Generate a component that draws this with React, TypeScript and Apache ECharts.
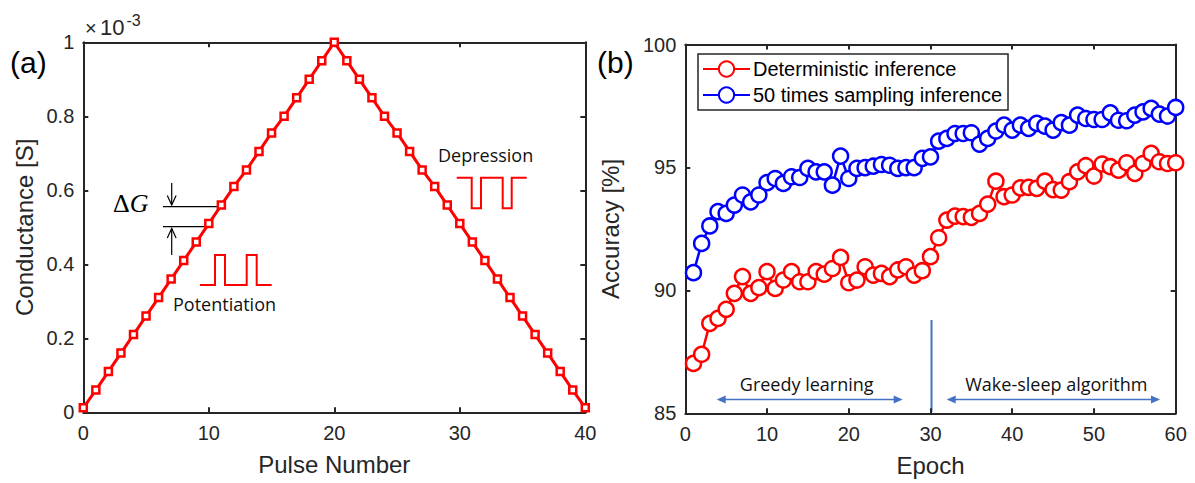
import React, { useEffect, useRef } from "react";
import * as echarts from "echarts";

// ---------- data ----------
const pulseNumbers = [0, 1, 2, 3, 4, 5, 6, 7, 8, 9, 10, 11, 12, 13, 14, 15, 16, 17, 18, 19, 20,
  21, 22, 23, 24, 25, 26, 27, 28, 29, 30, 31, 32, 33, 34, 35, 36, 37, 38, 39, 40];
// conductance in units of 1e-3 S
const conductance = [0.012, 0.06, 0.11, 0.16, 0.21, 0.26, 0.31, 0.36, 0.41, 0.46, 0.51,
  0.56, 0.61, 0.655, 0.705, 0.755, 0.80, 0.85, 0.90, 0.95, 1.0,
  0.95, 0.90, 0.85, 0.80, 0.755, 0.705, 0.655, 0.61, 0.56, 0.51,
  0.46, 0.41, 0.36, 0.31, 0.26, 0.21, 0.16, 0.11, 0.06, 0.012];

const epochs = [1, 2, 3, 4, 5, 6, 7, 8, 9, 10, 11, 12, 13, 14, 15, 16, 17, 18, 19, 20,
  21, 22, 23, 24, 25, 26, 27, 28, 29, 30, 31, 32, 33, 34, 35, 36, 37, 38, 39, 40,
  41, 42, 43, 44, 45, 46, 47, 48, 49, 50, 51, 52, 53, 54, 55, 56, 57, 58, 59, 60];
const deterministicAcc = [87.03, 87.4, 88.66, 88.86, 89.23, 89.88, 90.56, 89.88, 90.11, 90.76,
  90.08, 90.42, 90.76, 90.35, 90.35, 90.76, 90.66, 90.89, 91.34, 90.31,
  90.42, 90.96, 90.62, 90.69, 90.56, 90.83, 90.96, 90.62, 90.8, 91.37,
  92.14, 92.86, 93.02, 93.0, 92.97, 93.13, 93.51, 94.44, 93.81, 93.88,
  94.17, 94.19, 94.15, 94.44, 94.1, 94.08, 94.42, 94.82, 95.07, 94.65,
  95.14, 95.03, 94.89, 95.19, 94.76, 95.16, 95.57, 95.23, 95.16, 95.19];
const samplingAcc = [90.72, 91.91, 92.62, 93.2, 93.13, 93.47, 93.88, 93.6, 93.88, 94.38,
  94.55, 94.35, 94.62, 94.59, 94.96, 94.82, 94.82, 94.28, 95.46, 94.55,
  94.96, 94.99, 95.05, 95.12, 95.09, 94.96, 94.99, 94.99, 95.37, 95.43,
  96.07, 96.18, 96.38, 96.38, 96.41, 95.95, 96.18, 96.48, 96.72, 96.52,
  96.72, 96.59, 96.79, 96.68, 96.52, 96.82, 96.72, 97.13, 96.99, 96.95,
  96.95, 97.22, 96.92, 96.9, 97.13, 97.26, 97.4, 97.17, 97.09, 97.44];

const legendNames = ["Deterministic inference", "50 times sampling inference"];

// ---------- style ----------
const FONT = "'Liberation Sans', Arial, sans-serif";
const ANNOT_FONT = "'Open Sans', 'Noto Sans', sans-serif";
const AXIS_COLOR = "#262626";
const ANNOT_BLUE = "#4472C4";

const LEFT_GRID = { left: 83.3, top: 42.3, width: 502, height: 370 };
const RIGHT_GRID = { left: 685.3, top: 44.5, width: 490.4, height: 368.8 };

function mainAxis(pos: string, gridIndex: number, min: number, max: number, interval: number, name: string, nameGap: number) {
  const isY = pos === "left";
  return {
    type: "value",
    gridIndex,
    position: pos,
    min,
    max,
    interval,
    name,
    nameLocation: "middle",
    nameGap,
    nameTextStyle: { fontFamily: FONT, fontSize: 24, color: AXIS_COLOR },
    axisLine: { show: true, onZero: false, lineStyle: { color: AXIS_COLOR, width: 2 } },
    axisTick: { show: true, inside: true, length: 5, lineStyle: { color: AXIS_COLOR, width: 2 } },
    axisLabel: { show: true, fontFamily: FONT, fontSize: 20, color: AXIS_COLOR, margin: isY ? 9 : 11 },
    splitLine: { show: false },
  };
}

function mirrorAxis(pos: string, gridIndex: number, min: number, max: number, interval: number) {
  return {
    type: "value",
    gridIndex,
    position: pos,
    min,
    max,
    interval,
    axisLine: { show: true, onZero: false, lineStyle: { color: AXIS_COLOR, width: 2 } },
    axisTick: { show: true, inside: true, length: 5, lineStyle: { color: AXIS_COLOR, width: 2 } },
    axisLabel: { show: false },
    splitLine: { show: false },
  };
}

function arrowGraphics(x1: number, x2: number, y: number) {
  const head = 9;
  const half = 4;
  return [
    { type: "line", shape: { x1: x1 + 3, y1: y, x2: x2 - 3, y2: y }, style: { stroke: ANNOT_BLUE, lineWidth: 1.3 } },
    { type: "polygon", shape: { points: [[x1, y], [x1 + head, y - half], [x1 + head, y + half]] }, style: { fill: ANNOT_BLUE } },
    { type: "polygon", shape: { points: [[x2, y], [x2 - head, y - half], [x2 - head, y + half]] }, style: { fill: ANNOT_BLUE } },
  ];
}

export default function App() {
  const ref = useRef<HTMLDivElement>(null);

  useEffect(() => {
    if (!ref.current) return;
    const chart = echarts.init(ref.current, undefined, { renderer: "svg" });

    const option = {
      animation: false,
      backgroundColor: "#ffffff",
      grid: [
        { ...LEFT_GRID, containLabel: false },
        { ...RIGHT_GRID, containLabel: false },
      ],
      xAxis: [
        mainAxis("bottom", 0, 0, 40, 10, "Pulse Number", 40),
        mirrorAxis("top", 0, 0, 40, 10),
        mainAxis("bottom", 1, 0, 60, 10, "Epoch", 40),
        mirrorAxis("top", 1, 0, 60, 10),
      ],
      yAxis: [
        mainAxis("left", 0, 0, 1, 0.2, "Conductance [S]", 47),
        mirrorAxis("right", 0, 0, 1, 0.2),
        mainAxis("left", 1, 85, 100, 5, "Accuracy [%]", 63),
        mirrorAxis("right", 1, 85, 100, 5),
      ],
      legend: {
        data: legendNames,
        orient: "vertical",
        left: 698,
        top: 54,
        backgroundColor: "#ffffff",
        borderColor: AXIS_COLOR,
        borderWidth: 1.5,
        borderRadius: 0,
        padding: [4, 6, 4, 4],
        itemWidth: 47,
        itemHeight: 19,
        itemGap: 4,
        textStyle: { fontFamily: FONT, fontSize: 20, color: "#000000", lineHeight: 22, padding: [0, 0, 0, -2] },
      },
      series: [
        {
          type: "line",
          xAxisIndex: 0,
          yAxisIndex: 0,
          data: pulseNumbers.map((p, i) => [p, conductance[i]]),
          symbol: "rect",
          symbolSize: 7,
          lineStyle: { color: "#ff0000", width: 3 },
          itemStyle: { color: "#ffffff", borderColor: "#ff0000", borderWidth: 2.5 },
          clip: false,
          z: 5,
        },
        {
          name: legendNames[0],
          type: "line",
          xAxisIndex: 2,
          yAxisIndex: 2,
          data: epochs.map((e, i) => [e, deterministicAcc[i]]),
          symbol: "circle",
          symbolSize: 15,
          lineStyle: { color: "#ff0000", width: 2.5 },
          itemStyle: { color: "#ffffff", borderColor: "#ff0000", borderWidth: 2.5 },
          clip: false,
          z: 5,
        },
        {
          name: legendNames[1],
          type: "line",
          xAxisIndex: 2,
          yAxisIndex: 2,
          data: epochs.map((e, i) => [e, samplingAcc[i]]),
          symbol: "circle",
          symbolSize: 15,
          lineStyle: { color: "#0000ff", width: 2.5 },
          itemStyle: { color: "#ffffff", borderColor: "#0000ff", borderWidth: 2.5 },
          clip: false,
          z: 5,
        },
      ],
      graphic: [
        // panel labels
        { type: "text", x: 10, y: 62, style: { text: "(a)", fontFamily: FONT, fontSize: 30, fill: "#000", verticalAlign: "middle" } },
        { type: "text", x: 597, y: 62, style: { text: "(b)", fontFamily: FONT, fontSize: 30, fill: "#000", verticalAlign: "middle" } },
        // exponent
        { type: "text", x: 85, y: 28, style: { text: "×", fontFamily: FONT, fontSize: 20, fill: AXIS_COLOR, verticalAlign: "middle" } },
        { type: "text", x: 100, y: 27.5, style: { text: "10", fontFamily: FONT, fontSize: 22, fill: AXIS_COLOR, verticalAlign: "middle" } },
        { type: "text", x: 126.5, y: 20, style: { text: "-3", fontFamily: FONT, fontSize: 16, fill: AXIS_COLOR, verticalAlign: "middle" } },
        // delta G annotation
        {
          type: "text", x: 113, y: 203,
          style: {
            text: "{d|Δ}{g|G}",
            verticalAlign: "middle",
            fill: "#000",
            rich: {
              d: { fontFamily: "'Liberation Serif', serif", fontSize: 26, fill: "#000" },
              g: { fontFamily: "'Liberation Serif', serif", fontSize: 26, fontStyle: "italic", fill: "#000" },
            },
          },
        },
        { type: "line", shape: { x1: 163, y1: 206.7, x2: 222, y2: 206.7 }, style: { stroke: "#000", lineWidth: 1.3 } },
        { type: "line", shape: { x1: 163, y1: 226.7, x2: 212, y2: 226.7 }, style: { stroke: "#000", lineWidth: 1.3 } },
        { type: "line", shape: { x1: 171.7, y1: 183, x2: 171.7, y2: 205 }, style: { stroke: "#000", lineWidth: 1.2 } },
        { type: "polyline", shape: { points: [[167.3, 195.5], [171.7, 205], [176.1, 195.5]] }, style: { stroke: "#000", lineWidth: 1.2, fill: "none" } },
        { type: "line", shape: { x1: 171.7, y1: 228.5, x2: 171.7, y2: 255 }, style: { stroke: "#000", lineWidth: 1.2 } },
        { type: "polyline", shape: { points: [[167.3, 238], [171.7, 228.5], [176.1, 238]] }, style: { stroke: "#000", lineWidth: 1.2, fill: "none" } },
        // potentiation pulses
        {
          type: "polyline",
          shape: { points: [[200, 285], [215, 285], [215, 255], [225, 255], [225, 285], [246.7, 285], [246.7, 255], [256.7, 255], [256.7, 285], [271.7, 285]] },
          style: { stroke: "#ff0000", lineWidth: 2, fill: "none" },
        },
        { type: "text", x: 173, y: 304, style: { text: "Potentiation", fontFamily: ANNOT_FONT, fontSize: 18, fill: "#111", verticalAlign: "middle" } },
        // depression pulses
        {
          type: "polyline",
          shape: { points: [[456.7, 177.7], [471.7, 177.7], [471.7, 208.3], [481, 208.3], [481, 177.7], [502.7, 177.7], [502.7, 208.3], [511.7, 208.3], [511.7, 177.7], [526.7, 177.7]] },
          style: { stroke: "#ff0000", lineWidth: 2, fill: "none" },
        },
        { type: "text", x: 438, y: 155, style: { text: "Depression", fontFamily: ANNOT_FONT, fontSize: 18, fill: "#111", verticalAlign: "middle" } },
        // right panel annotations
        { type: "line", shape: { x1: 931.5, y1: 320, x2: 931.5, y2: 412 }, style: { stroke: ANNOT_BLUE, lineWidth: 2 } },
        ...arrowGraphics(716.7, 902.7, 399.5),
        ...arrowGraphics(946.7, 1160, 399.5),
        { type: "text", x: 806.7, y: 384, style: { text: "Greedy learning", fontFamily: ANNOT_FONT, fontSize: 18, fill: "#111", align: "center", verticalAlign: "middle" } },
        { type: "text", x: 1056.3, y: 384, style: { text: "Wake-sleep algorithm", fontFamily: ANNOT_FONT, fontSize: 18, fill: "#111", align: "center", verticalAlign: "middle" } },
      ],
    };

    chart.setOption(option as any);
    return () => chart.dispose();
  }, []);

  return (
    <div
      ref={ref}
      style={{ position: "fixed", left: 0, top: 0, width: 1195, height: 483, background: "#fff" }}
    />
  );
}
